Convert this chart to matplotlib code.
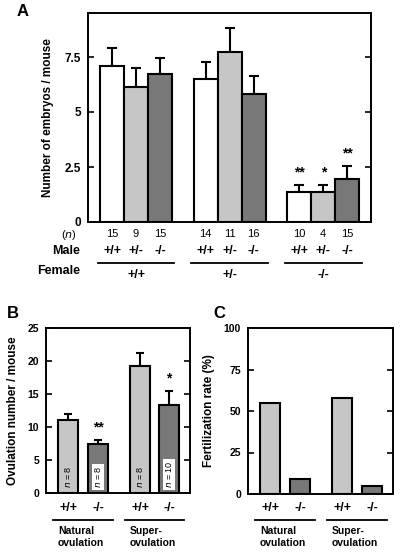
import matplotlib
matplotlib.use("Agg")
import matplotlib.pyplot as plt
import matplotlib.transforms as mtransforms
from matplotlib.lines import Line2D

plt.rcParams['font.family'] = ['Liberation Sans', 'DejaVu Sans']

# ---------------- data ----------------
# Panel A
female_groups = ['+/+', '+/-', '-/-']
male_genotypes = ['+/+', '+/-', '-/-']
embryos_mean = [[7.1, 6.12, 6.72], [6.48, 7.73, 5.82], [1.36, 1.36, 1.95]]
embryos_err = [[0.82, 0.86, 0.72], [0.79, 1.07, 0.82], [0.32, 0.32, 0.61]]
embryos_n = [[15, 9, 15], [14, 11, 16], [10, 4, 15]]
embryos_sig = [['', '', ''], ['', '', ''], ['**', '*', '**']]
a_yticks = [0, 2.5, 5, 7.5]
a_yticklabels = ['0', '2.5', '5', '7.5']

# Panel B
b_genotypes = ['+/+', '-/-', '+/+', '-/-']
b_conditions = ['Natural\novulation', 'Super-\novulation']
ovulation_mean = [11.05, 7.4, 19.2, 13.3]
ovulation_err = [0.85, 0.7, 2.0, 2.15]
ovulation_n = [8, 8, 8, 10]
ovulation_sig = ['', '**', '', '*']
b_yticks = [0, 5, 10, 15, 20, 25]

# Panel C
fert_rate = [55, 9, 58, 5]
c_yticks = [0, 25, 50, 75, 100]

# ---------------- style ----------------
W, H = 400, 556
WHITE, LIGHT, DARK = '#ffffff', '#c6c6c6', '#787878'
a_colors = [WHITE, LIGHT, DARK]
b_colors = [LIGHT, DARK, LIGHT, DARK]

fig = plt.figure(figsize=(W / 100, H / 100), dpi=100)


def px_axes(l, t, r, b):
    return fig.add_axes([l / W, 1 - b / H, (r - l) / W, (b - t) / H])


def fy(py):
    return 1 - py / H


def fx(px):
    return px / W


def style_axes(ax, fs):
    for s in ax.spines.values():
        s.set_linewidth(1.4)
    ax.tick_params(axis='y', direction='in', right=True, left=True, length=4,
                   width=1.2, labelsize=fs, pad=5)
    ax.tick_params(axis='x', bottom=False, labelbottom=False)
    for lab in ax.get_yticklabels():
        lab.set_fontweight('bold')


# ---------------- Panel A ----------------
axA = px_axes(88, 13, 371, 222)
xs_all = []
for g in range(3):
    xs = [1 + g * 3.9 + j for j in range(3)]
    xs_all.append(xs)
    axA.bar(xs, embryos_mean[g], width=1.0, color=a_colors, edgecolor='black',
            linewidth=1.5, zorder=2)
    axA.errorbar(xs, embryos_mean[g], yerr=[[0, 0, 0], embryos_err[g]], fmt='none',
                 ecolor='black', elinewidth=1.5, capsize=3.5, capthick=1.5, zorder=1)
    for j in range(3):
        if embryos_sig[g][j]:
            axA.text(xs[j], embryos_mean[g][j] + embryos_err[g][j] + 0.25,
                     embryos_sig[g][j], ha='center', va='bottom', fontsize=10,
                     fontweight='bold')
axA.set_xlim(0, 11.79)
axA.set_ylim(0, 9.5)
axA.set_yticks(a_yticks)
axA.set_yticklabels(a_yticklabels)
style_axes(axA, 8.5)
axA.set_ylabel('Number of embryos / mouse', fontsize=8.5, fontweight='bold', labelpad=8)

trA = mtransforms.blended_transform_factory(axA.transData, fig.transFigure)
for g in range(3):
    xs = xs_all[g]
    for j in range(3):
        axA.text(xs[j], fy(234.5), str(embryos_n[g][j]), transform=trA, ha='center',
                 va='center', fontsize=8)
        axA.text(xs[j], fy(251.5), male_genotypes[j], transform=trA, ha='center',
                 va='center', fontsize=9, fontweight='bold')
    axA.add_line(Line2D([xs[0] - 0.6, xs[2] + 0.6], [fy(263), fy(263)], transform=trA,
                        color='black', linewidth=1.3, clip_on=False))
    axA.text(xs[1], fy(275.5), female_groups[g], transform=trA, ha='center', va='center',
             fontsize=9, fontweight='bold')
fig.text(fx(77), fy(235), '($n$)', ha='right', va='center', fontsize=8)
fig.text(fx(80), fy(251.5), 'Male', ha='right', va='center', fontsize=9, fontweight='bold')
fig.text(fx(80), fy(271.5), 'Female', ha='right', va='center', fontsize=9, fontweight='bold')
fig.text(fx(17), fy(12), 'A', ha='left', va='center', fontsize=12, fontweight='bold')

# ---------------- Panel B ----------------
axB = px_axes(46, 328, 190, 493)
xb = [1.1, 2.6, 4.7, 6.15]
axB.bar(xb, ovulation_mean, width=1.0, color=b_colors, edgecolor='black', linewidth=1.5,
        zorder=2)
axB.errorbar(xb, ovulation_mean, yerr=[[0] * 4, ovulation_err], fmt='none', ecolor='black',
             elinewidth=1.5, capsize=3, capthick=1.5, zorder=1)
for i in range(4):
    if ovulation_sig[i]:
        axB.text(xb[i], ovulation_mean[i] + ovulation_err[i] + 0.8, ovulation_sig[i],
                 ha='center', va='bottom', fontsize=10, fontweight='bold')
    bbox = dict(boxstyle='square,pad=0.15', facecolor='white', edgecolor='none') \
        if b_colors[i] == DARK else None
    axB.text(xb[i], 0.7, f'$n$ = {ovulation_n[i]}', rotation=90, ha='center',
             va='bottom', fontsize=6.5, bbox=bbox, zorder=3)
axB.set_xlim(0, 7.2)
axB.set_ylim(0, 25)
axB.set_yticks(b_yticks)
style_axes(axB, 7.5)
axB.set_ylabel('Ovulation number / mouse', fontsize=8.5, fontweight='bold', labelpad=6)
fig.text(fx(7), fy(313), 'B', ha='left', va='center', fontsize=12, fontweight='bold')

# ---------------- Panel C ----------------
axC = px_axes(248, 328, 393, 494)
xc = [1.1, 2.6, 4.7, 6.2]
axC.bar(xc, fert_rate, width=1.0, color=b_colors, edgecolor='black', linewidth=1.5,
        zorder=2)
axC.set_xlim(0, 7.25)
axC.set_ylim(0, 100)
axC.set_yticks(c_yticks)
style_axes(axC, 7.5)
axC.set_ylabel('Fertilization rate (%)', fontsize=8.5, fontweight='bold', labelpad=6)
fig.text(fx(213), fy(313), 'C', ha='left', va='center', fontsize=12, fontweight='bold')

# shared lower labels for B and C
for ax, xx in [(axB, xb), (axC, xc)]:
    tr = mtransforms.blended_transform_factory(ax.transData, fig.transFigure)
    for i in range(4):
        ax.text(xx[i], fy(508), b_genotypes[i], transform=tr, ha='center', va='center',
                fontsize=9, fontweight='bold')
    for k in range(2):
        x0, x1 = xx[2 * k] - 0.75, xx[2 * k + 1] + 0.75
        ax.add_line(Line2D([x0, x1], [fy(520), fy(520)], transform=tr, color='black',
                           linewidth=1.3, clip_on=False))
        ax.text(xx[2 * k] - 0.5, fy(526), b_conditions[k], transform=tr, ha='left',
                va='top', fontsize=7.5, fontweight='bold', linespacing=1.25)

fig.savefig('out.png', dpi=100)
